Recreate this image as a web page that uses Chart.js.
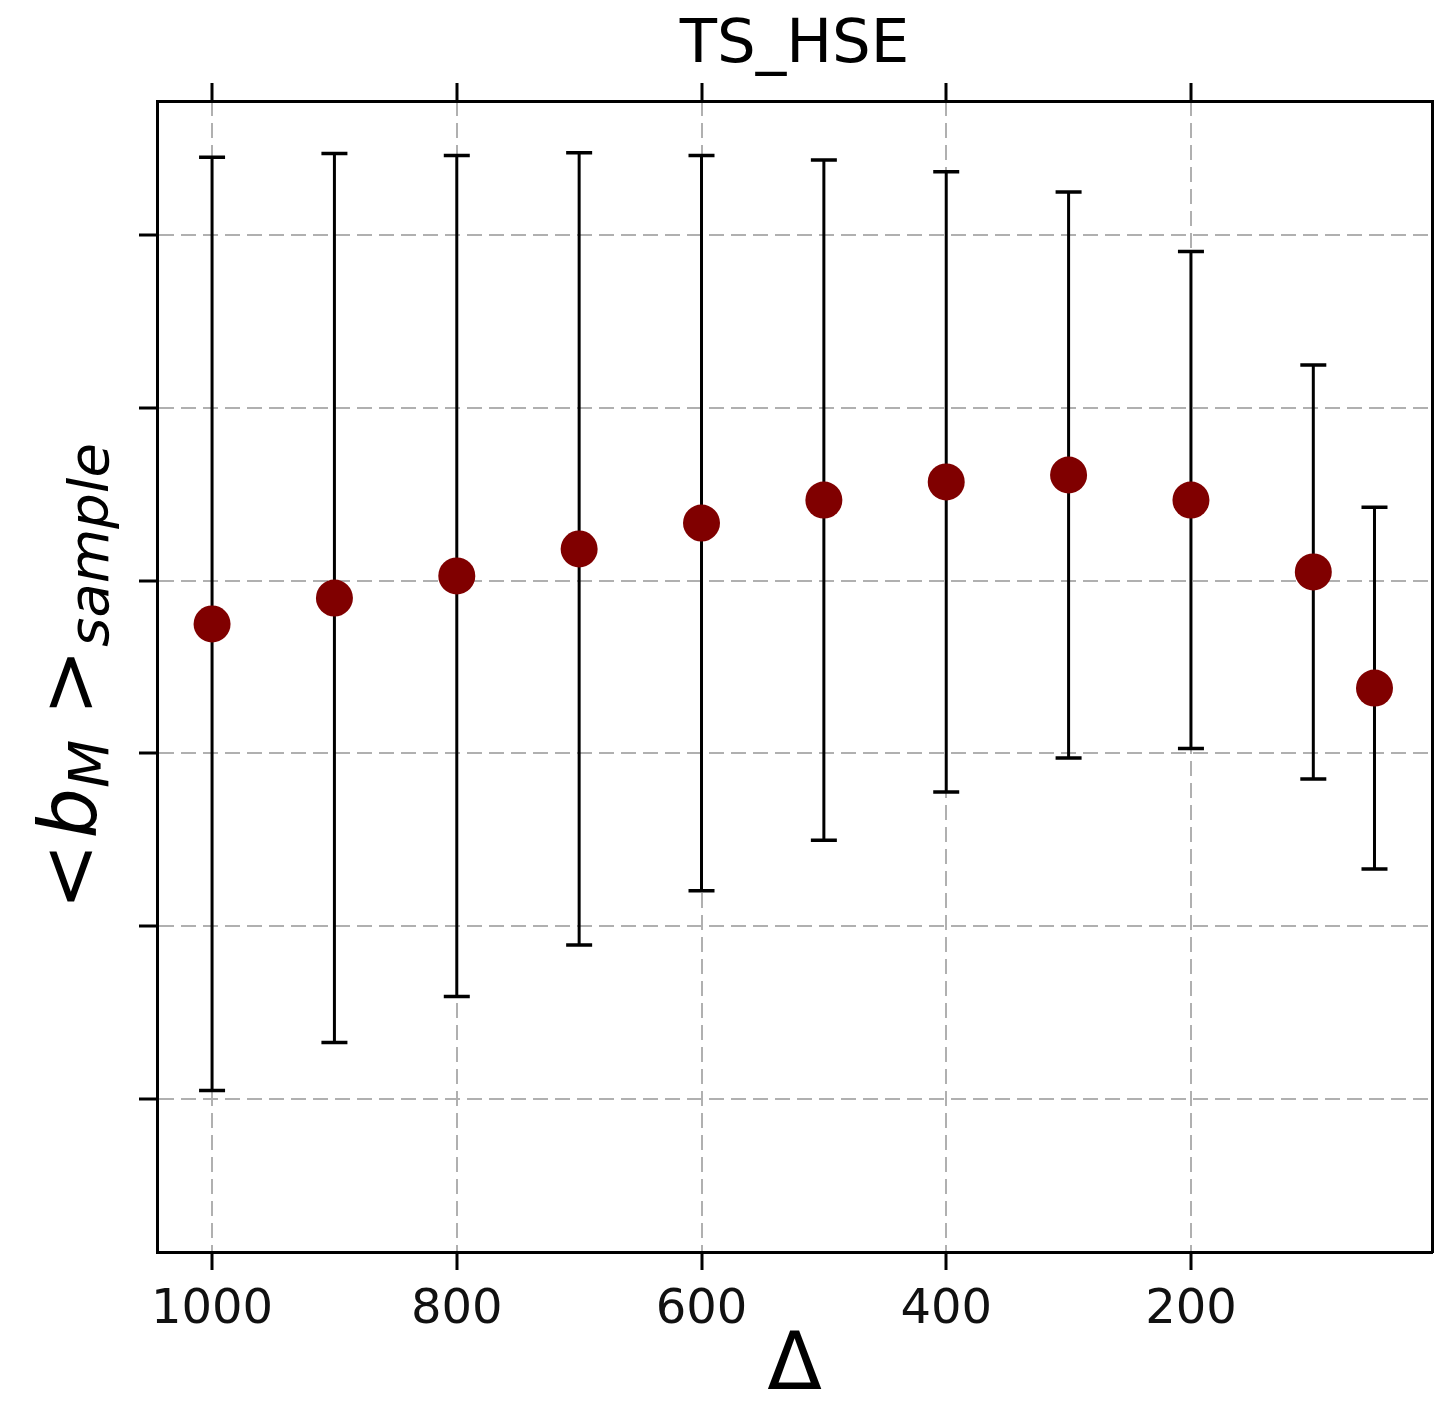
<!DOCTYPE html>
<html>
<head>
<meta charset="utf-8">
<title>TS_HSE</title>
<script src="https://cdn.jsdelivr.net/npm/chart.js@4.4.1/dist/chart.umd.min.js"></script>
<style>
  html, body { margin: 0; padding: 0; background: #fff; }
  canvas { display: block; }
</style>
</head>
<body>
<canvas id="grafico" width="1435" height="1408"></canvas>
<script>
// Datos (eje Y sin etiquetas: unidades = líneas de la rejilla)
const deltas = [1000, 900, 800, 700, 600, 500, 400, 300, 200, 100, 50];
const medias = [2.749, 2.899, 3.027, 3.183, 3.333, 3.466, 3.571, 3.611, 3.466, 3.050, 2.378];
const errores = [2.700, 2.572, 2.433, 2.292, 2.127, 1.968, 1.794, 1.638, 1.438, 1.198, 1.047];
const ticksX = [1000, 800, 600, 400, 200];
const ticksY = [0, 1, 2, 3, 4, 5];

const FUENTE = '"DejaVu Sans", sans-serif';
const rangoX = { min: 3, max: 1045 };
const rangoY = { min: -0.885, max: 5.775 };

Chart.defaults.font.family = FUENTE;

// Barras de error, dibujadas debajo de los puntos
const barrasError = {
    id: 'barrasError',
    beforeDatasetsDraw(chart) {
        const ctx = chart.ctx;
        const x = chart.scales.x;
        const y = chart.scales.y;
        ctx.save();
        ctx.strokeStyle = '#000';
        deltas.forEach((d, i) => {
            const px = x.getPixelForValue(d);
            const arriba = y.getPixelForValue(medias[i] + errores[i]);
            const abajo = y.getPixelForValue(medias[i] - errores[i]);
            ctx.lineWidth = 3;
            ctx.beginPath();
            ctx.moveTo(px, arriba);
            ctx.lineTo(px, abajo);
            ctx.stroke();
            // tapas
            ctx.lineWidth = 3.5;
            ctx.beginPath();
            ctx.moveTo(px - 13, arriba);
            ctx.lineTo(px + 13, arriba);
            ctx.moveTo(px - 13, abajo);
            ctx.lineTo(px + 13, abajo);
            ctx.stroke();
        });
        ctx.restore();
    }
};

// Etiqueta del eje Y con subíndices: < b_M >_sample
const etiquetaY = {
    id: 'etiquetaY',
    afterDraw(chart) {
        const ctx = chart.ctx;
        const area = chart.chartArea;
        const partes = [
            { t: '<', size: 80, italic: false, sub: 0, gap: 0 },
            { t: 'b', size: 80, italic: true, sub: 0, gap: 4 },
            { t: 'M', size: 56, italic: true, sub: 12, gap: 0 },
            { t: '>', size: 80, italic: false, sub: 0, gap: 24 },
            { t: 'sample', size: 56, italic: true, sub: 12, gap: 2 }
        ];
        const fuente = p => (p.italic ? 'italic ' : '') + p.size + 'px ' + FUENTE;

        ctx.save();
        let total = 0;
        partes.forEach(p => {
            ctx.font = fuente(p);
            p.ancho = ctx.measureText(p.t).width;
            total += p.gap + p.ancho;
        });

        ctx.translate(96, (area.top + area.bottom) / 2);
        ctx.rotate(-Math.PI / 2);
        ctx.fillStyle = '#000';
        ctx.textBaseline = 'alphabetic';
        ctx.textAlign = 'left';
        let pos = -total / 2;
        partes.forEach(p => {
            pos += p.gap;
            ctx.font = fuente(p);
            ctx.fillText(p.t, pos, p.sub);
            pos += p.ancho;
        });
        ctx.restore();
    }
};

const rejilla = { color: '#b0b0b0', lineWidth: 2, tickLength: 18, tickWidth: 3, tickColor: '#000' };
const borde = { display: true, color: '#000', width: 3, dash: [15, 7] };

// Sin relleno extra a los lados para que el área del gráfico quede fija
function sinRelleno(s) {
    s.paddingLeft = 0;
    s.paddingRight = 0;
}

new Chart(document.getElementById('grafico'), {
    type: 'scatter',
    data: {
        datasets: [{
            data: deltas.map((d, i) => ({ x: d, y: medias[i] })),
            pointRadius: 18.5,
            pointHoverRadius: 18.5,
            pointBackgroundColor: '#800000',
            pointBorderColor: '#800000',
            pointBorderWidth: 0,
            showLine: false
        }]
    },
    options: {
        responsive: false,
        animation: false,
        layout: { autoPadding: false, padding: { left: 0, right: 3, top: 0, bottom: 0 } },
        plugins: {
            legend: { display: false },
            tooltip: { enabled: false },
            title: {
                display: true,
                text: 'TS_HSE',
                fullSize: false,
                color: '#000',
                font: { family: FUENTE, size: 61, weight: 'normal', lineHeight: 1 },
                padding: { top: 16, bottom: 6 }
            }
        },
        scales: {
            x: {
                type: 'linear',
                position: 'bottom',
                reverse: true,
                min: rangoX.min,
                max: rangoX.max,
                afterBuildTicks: s => { s.ticks = ticksX.map(v => ({ value: v })); },
                afterFit: s => { s.height = 156; sinRelleno(s); },
                grid: rejilla,
                border: borde,
                ticks: {
                    color: '#111',
                    padding: 12,
                    autoSkip: false,
                    maxRotation: 0,
                    font: { size: 48, lineHeight: 1.2 },
                    callback: v => String(v)
                },
                title: {
                    display: true,
                    text: 'Δ',
                    color: '#000',
                    padding: 0,
                    font: { size: 80, lineHeight: 1 }
                }
            },
            x2: {
                type: 'linear',
                position: 'top',
                reverse: true,
                min: rangoX.min,
                max: rangoX.max,
                afterBuildTicks: s => { s.ticks = ticksX.map(v => ({ value: v })); },
                afterFit: s => { s.height = 18; sinRelleno(s); },
                grid: Object.assign({}, rejilla, { drawOnChartArea: false }),
                border: { display: true, color: '#000', width: 3 },
                ticks: { display: false }
            },
            y: {
                type: 'linear',
                position: 'left',
                min: rangoY.min,
                max: rangoY.max,
                afterBuildTicks: s => { s.ticks = ticksY.map(v => ({ value: v })); },
                afterFit: s => { s.width = 157; },
                grid: rejilla,
                border: borde,
                ticks: { display: false }
            },
            y2: {
                type: 'linear',
                position: 'right',
                min: rangoY.min,
                max: rangoY.max,
                afterFit: s => { s.width = 0; },
                grid: { drawOnChartArea: false, drawTicks: false },
                border: { display: true, color: '#000', width: 3 },
                ticks: { display: false }
            }
        }
    },
    plugins: [barrasError, etiquetaY]
});
</script>
</body>
</html>
